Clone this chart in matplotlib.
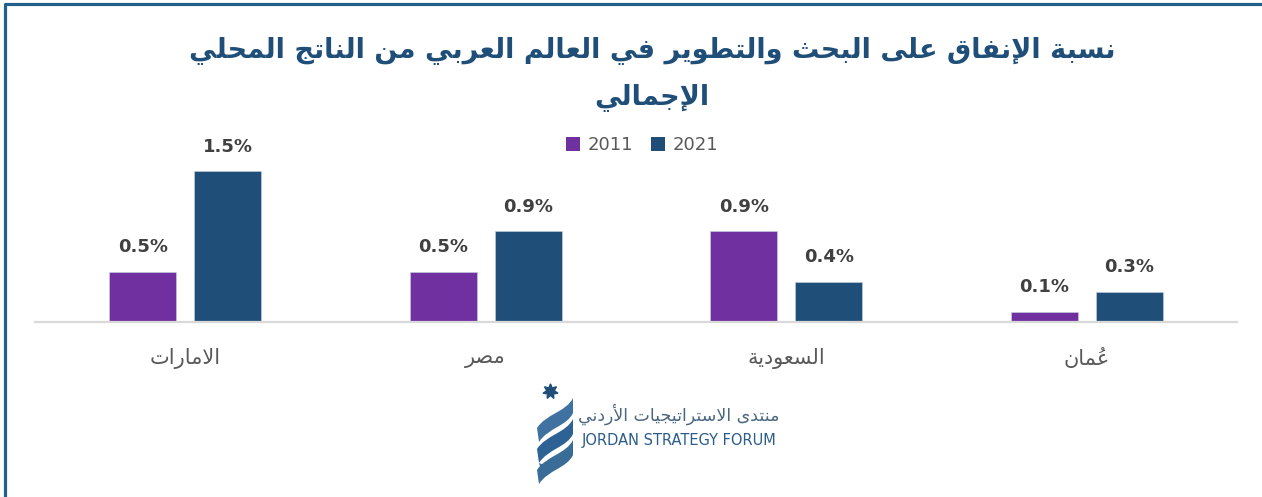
import matplotlib
matplotlib.use("Agg")
import matplotlib.pyplot as plt
from matplotlib.lines import Line2D
from matplotlib.patches import Patch, PathPatch
from matplotlib.path import Path
import numpy as np

plt.rcParams['font.family'] = ['DejaVu Sans']

# data
categories = ['الامارات', 'مصر', 'السعودية', 'عُمان']
series_names = ['2011', '2021']
values_2011 = [0.5, 0.5, 0.9, 0.1]
values_2021 = [1.5, 0.9, 0.4, 0.3]
title_lines = ['نسبة الإنفاق على البحث والتطوير في العالم العربي من الناتج المحلي', 'الإجمالي']
logo_ar = 'منتدى الاستراتيجيات الأردني'
logo_en = 'JORDAN STRATEGY FORUM'

colors = ['#7030A0', '#1F4E79']

# ---- minimal arabic shaping (matplotlib does not shape or do bidi) ----
_dual = {'ئ': 0xFE89, 'ب': 0xFE8F, 'ت': 0xFE95, 'ث': 0xFE99, 'ج': 0xFE9D, 'ح': 0xFEA1,
         'خ': 0xFEA5, 'س': 0xFEB1, 'ش': 0xFEB5, 'ص': 0xFEB9, 'ض': 0xFEBD, 'ط': 0xFEC1,
         'ظ': 0xFEC5, 'ع': 0xFEC9, 'غ': 0xFECD, 'ف': 0xFED1, 'ق': 0xFED5, 'ك': 0xFED9,
         'ل': 0xFEDD, 'م': 0xFEE1, 'ن': 0xFEE5, 'ه': 0xFEE9, 'ي': 0xFEF1}
_right = {'آ': 0xFE81, 'أ': 0xFE83, 'ؤ': 0xFE85, 'إ': 0xFE87, 'ا': 0xFE8D, 'ة': 0xFE93,
          'د': 0xFEA9, 'ذ': 0xFEAB, 'ر': 0xFEAD, 'ز': 0xFEAF, 'و': 0xFEED, 'ى': 0xFEEF}
_lamalef = {'آ': 0xFEF5, 'أ': 0xFEF7, 'إ': 0xFEF9, 'ا': 0xFEFB}


def shape_ar(text):
    clusters = []
    for ch in text:
        if '\u064B' <= ch <= '\u0652' and clusters:
            clusters[-1][1] += ch
        else:
            clusters.append([ch, ''])
    merged = []
    i = 0
    while i < len(clusters):
        c = clusters[i]
        if c[0] == 'ل' and i + 1 < len(clusters) and clusters[i + 1][0] in _lamalef:
            merged.append(['LA' + clusters[i + 1][0], c[1] + clusters[i + 1][1]])
            i += 2
        else:
            merged.append(c)
            i += 1

    def joins(ch):
        return ch in _dual or ch in _right or ch.startswith('LA')

    out = []
    for i, (ch, marks) in enumerate(merged):
        prev = merged[i - 1][0] if i > 0 else ''
        nxt = merged[i + 1][0] if i + 1 < len(merged) else ''
        p = prev in _dual and joins(ch)
        n = ch in _dual and joins(nxt)
        if ch.startswith('LA'):
            g = chr(_lamalef[ch[2]] + (1 if p else 0))
        elif ch in _dual:
            g = chr(_dual[ch] + (3 if p and n else 1 if p else 2 if n else 0))
        elif ch in _right:
            g = chr(_right[ch] + (1 if p else 0))
        else:
            g = ch
        # marks go first so they sit over their letter in left-to-right drawing
        out.append(marks + g)
    return ''.join(reversed(out))


W, H = 1262, 497
fig = plt.figure(figsize=(W / 100, H / 100), dpi=100)
fig.patch.set_facecolor('white')

# main axes (pixel layout: baseline y=322, x from 35 to 1237)
ax = fig.add_axes([35 / W, (H - 322) / H, 1202 / W, 161 / H])
x = np.arange(len(categories))
bw = 0.223
off = 0.1414
for vals, col, sgn in [(values_2011, colors[0], -1), (values_2021, colors[1], 1)]:
    bars = ax.bar(x + sgn * off, vals, width=bw, color=col, edgecolor='#c8d3e0', linewidth=0.4, zorder=2)
    for b, v in zip(bars, vals):
        ax.annotate(f'{v:.1f}%', (b.get_x() + b.get_width() / 2, v), xytext=(0, 14),
                    textcoords='offset points', ha='center', va='baseline',
                    fontsize=13, fontweight='bold', color='#404040')

ax.set_xlim(-0.5, len(categories) - 0.5)
ax.set_ylim(0, 1.6)
ax.set_yticks([])
ax.set_xticks(x)
ax.set_xticklabels([shape_ar(c) for c in categories], fontsize=15, color='#595959')
ax.tick_params(axis='x', length=0, pad=19)
for s in ['top', 'right', 'left']:
    ax.spines[s].set_visible(False)
ax.spines['bottom'].set_color('#d9d9d9')
ax.spines['bottom'].set_linewidth(1.6)
ax.set_facecolor('none')

# title
fig.text(652 / W, 1 - 50 / H, shape_ar(title_lines[0]), ha='center', va='center',
         fontsize=19.5, fontweight='bold', color='#1F4E79')
fig.text(652 / W, 1 - 97 / H, shape_ar(title_lines[1]), ha='center', va='center',
         fontsize=19.5, fontweight='bold', color='#1F4E79')

# legend
handles = [Patch(facecolor=c, label=n) for c, n in zip(colors, series_names)]
fig.legend(handles=handles, loc='center', bbox_to_anchor=(642 / W, 1 - 145 / H), ncol=2,
           frameon=False, fontsize=13, labelcolor='#595959', handlelength=0.8,
           handleheight=0.8, handletextpad=0.4, columnspacing=1.0)

# overlay in pixel coordinates for frame + logo
ov = fig.add_axes([0, 0, 1, 1], zorder=-1)
ov.set_xlim(0, W)
ov.set_ylim(H, 0)
ov.axis('off')
ov.add_line(Line2D([5, 5, W], [H, 3.5, 3.5], color='#22608C', linewidth=2.3))

# logo emblem: three twisted ribbons + star
for k in range(3):
    dy = 21 * k
    verts = [(537, 428 + dy), (546, 414 + dy), (566, 412 + dy), (573, 398 + dy),
             (573, 413 + dy), (567, 426 + dy), (548, 428 + dy), (539, 442 + dy), (537, 428 + dy)]
    codes = [Path.MOVETO, Path.CURVE4, Path.CURVE4, Path.CURVE4, Path.LINETO,
             Path.CURVE4, Path.CURVE4, Path.CURVE4, Path.CLOSEPOLY]
    ov.add_patch(PathPatch(Path(verts, codes), facecolor=['#3f72a0', '#2f6294', '#3a6c98'][k],
                           edgecolor='none'))
ov.add_patch(PathPatch(Path([(539, 463), (546, 466), (548, 472), (544, 477), (541, 470), (539, 463)],
                            [Path.MOVETO, Path.LINETO, Path.LINETO, Path.LINETO, Path.LINETO,
                             Path.CLOSEPOLY]), facecolor='#3a6c98', edgecolor='none'))
ov.plot([550], [391], marker=(7, 1, 0), markersize=11, color='#1F4E79', linestyle='none')
ov.text(679, 414, shape_ar(logo_ar), ha='center', va='center', fontsize=12.5, color='#4a6680')
ov.text(679, 441, logo_en, ha='center', va='center', fontsize=10.5, color='#2c5d8a')

fig.savefig('out.png', dpi=100, facecolor='white')
